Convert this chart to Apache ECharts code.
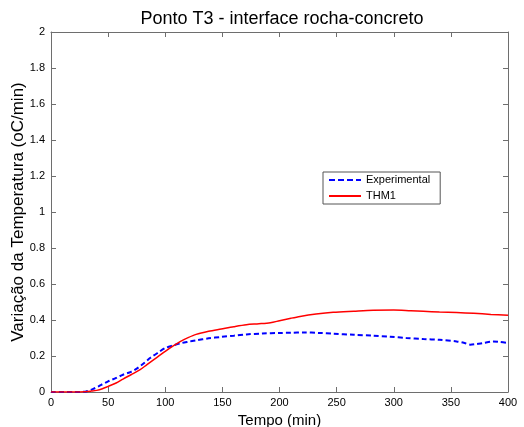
<!DOCTYPE html>
<html>
<head>
<meta charset="utf-8">
<script src="https://cdn.jsdelivr.net/npm/echarts@6/dist/echarts.min.js"></script>
<style>
  html, body { margin: 0; padding: 0; background: #fff; }
  #chart { width: 524px; height: 427px; }
</style>
</head>
<body>
<div id="chart"></div>
<script>
// values (tempo in min, variação in oC/min)
const expTime = [0, 20, 30, 37, 44, 50, 57, 63, 70, 75, 81, 87, 94, 100, 107, 113, 120, 127, 138, 149, 160, 171, 185, 200, 210, 221, 235, 247, 265, 282, 297, 311, 326, 340, 355, 362, 367, 372, 378, 387, 393, 400];
const expVals = [0, 0, 0.002, 0.017, 0.04, 0.059, 0.078, 0.096, 0.112, 0.13, 0.158, 0.19, 0.22, 0.244, 0.259, 0.27, 0.279, 0.287, 0.298, 0.306, 0.313, 0.32, 0.325, 0.328, 0.329, 0.331, 0.328, 0.324, 0.318, 0.313, 0.307, 0.3, 0.294, 0.29, 0.281, 0.272, 0.263, 0.266, 0.272, 0.281, 0.278, 0.272];
const thmTime = [0, 20, 30, 35, 40, 45, 50, 57, 63, 70, 78, 84, 90, 95, 100, 107, 113, 120, 127, 138, 149, 160, 171, 182, 192, 200, 210, 218, 232, 247, 265, 282, 300, 315, 326, 340, 355, 370, 385, 400];
const thmVals = [0, 0, 0.002, 0.005, 0.009, 0.018, 0.031, 0.05, 0.072, 0.096, 0.124, 0.152, 0.18, 0.203, 0.226, 0.256, 0.28, 0.302, 0.32, 0.337, 0.35, 0.363, 0.374, 0.379, 0.385, 0.396, 0.41, 0.42, 0.433, 0.443, 0.449, 0.454, 0.455, 0.451, 0.448, 0.444, 0.441, 0.437, 0.431, 0.426];

const pair = (xs, ys) => xs.map((x, i) => [x, ys[i]]);
const font = 'Liberation Sans, Arial, sans-serif';
const grey = '#6e6e6e';

// legend samples: plain line strokes, no markers
const dashIcon = 'path://M0 0H6V2H0Z M9 0H15V2H9Z M18 0H24V2H18Z M27 0H32V2H27Z';
const solidIcon = 'path://M0 0H32V2H0Z';

const chart = echarts.init(document.getElementById('chart'));

const axisBase = {
  type: 'value',
  axisLine: { show: true, onZero: false, lineStyle: { color: grey, width: 1 } },
  axisTick: { show: true, inside: true, length: 5, lineStyle: { color: grey } },
  splitLine: { show: false }
};

chart.setOption({
  animation: false,
  backgroundColor: '#fff',
  title: {
    text: 'Ponto T3 - interface rocha-concreto',
    left: 277,
    textAlign: 'center',
    top: 5,
    textStyle: { fontFamily: font, fontSize: 18, fontWeight: 'normal', color: '#000' }
  },
  grid: { left: 51, right: 16, top: 32, bottom: 35, outerBoundsMode: 'none', containLabel: false },
  legend: {
    left: 323,
    top: 172,
    orient: 'vertical',
    itemWidth: 32,
    itemHeight: 2,
    itemGap: 4,
    padding: [2, 10, 2, 6],
    borderColor: '#555',
    borderWidth: 1,
    backgroundColor: '#fff',
    textStyle: { fontFamily: font, fontSize: 11, color: '#000', lineHeight: 12 },
    data: [
      { name: 'Experimental', icon: dashIcon },
      { name: 'THM1', icon: solidIcon }
    ]
  },
  xAxis: [
    Object.assign({}, axisBase, {
      min: 0, max: 400, interval: 50,
      name: 'Tempo (min)', nameLocation: 'middle', nameGap: 15,
      nameTextStyle: { fontFamily: font, fontSize: 15, color: '#000' },
      axisLabel: { fontFamily: font, fontSize: 11, color: '#000', margin: 5 }
    }),
    Object.assign({}, axisBase, {
      position: 'top', min: 0, max: 400, interval: 50,
      axisLabel: { show: false }
    })
  ],
  yAxis: [
    Object.assign({}, axisBase, {
      min: 0, max: 2, interval: 0.2,
      name: 'Variação da Temperatura (oC/min)', nameLocation: 'middle', nameGap: 24,
      nameMoveOverlap: false,
      nameTextStyle: { fontFamily: font, fontSize: 17, color: '#000' },
      axisLabel: {
        fontFamily: font, fontSize: 11, color: '#000', margin: 6,
        formatter: v => String(Math.round(v * 10) / 10)
      }
    }),
    Object.assign({}, axisBase, {
      position: 'right', min: 0, max: 2, interval: 0.2,
      axisLabel: { show: false }
    })
  ],
  series: [
    {
      name: 'Experimental',
      type: 'line',
      data: pair(expTime, expVals),
      smooth: 0.3,
      showSymbol: false,
      symbol: 'none',
      itemStyle: { color: '#0000ff' },
      lineStyle: { color: '#0000ff', width: 2, type: [5, 3] }
    },
    {
      name: 'THM1',
      type: 'line',
      data: pair(thmTime, thmVals),
      smooth: 0.3,
      showSymbol: false,
      symbol: 'none',
      itemStyle: { color: '#ff0000' },
      lineStyle: { color: '#ff0000', width: 1.5 }
    }
  ]
});
</script>
</body>
</html>
